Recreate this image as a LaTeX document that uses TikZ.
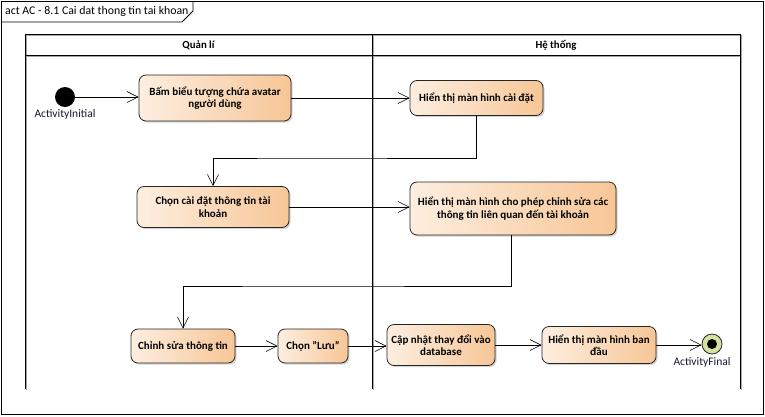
\documentclass[tikz,border=0pt]{standalone}
\usepackage{fontspec}
\setmainfont{Carlito}
\usetikzlibrary{arrows.meta,shadows}

\definecolor{actL}{RGB}{253,238,224}
\definecolor{actR}{RGB}{247,198,150}
\definecolor{finalG}{RGB}{208,228,160}
\definecolor{lblC}{RGB}{22,24,48}

\begin{document}
\begin{tikzpicture}[x=1pt,y=-1pt,
  action/.style={rounded corners=7pt, draw=black!85, line width=0.8pt,
    left color=actL, right color=actR, align=center, text=black,
    font=\fontsize{11}{12.5}\selectfont\bfseries, inner sep=2pt,
    drop shadow={shadow xshift=1.6pt, shadow yshift=-1.6pt, opacity=0.35}},
  flow/.style={draw=black, line width=0.6pt,
    -{Straight Barb[length=11pt,width=11pt,line width=0.6pt]}},
  lane/.style={draw=black, line width=0.9pt},
  laneshade/.style={draw=black!35, line width=0.9pt},
  hdr/.style={font=\fontsize{10.8}{12}\selectfont\bfseries, inner sep=0pt},
  lbl/.style={font=\fontsize{11.5}{13}\selectfont, text=lblC, inner sep=0pt},
  initial/.style={circle, fill=black, minimum size=20pt, inner sep=0pt},
  finalring/.style={circle, draw=black!85, line width=0.8pt, fill=finalG,
    minimum size=20pt, inner sep=0pt},
  finaldot/.style={circle, fill=black, minimum size=10pt, inner sep=0pt}]

\useasboundingbox (0,0) rectangle (765,416);

% diagram frame and name tab
\draw[line width=0.9pt] (1,1) rectangle (763,414);
\draw[line width=0.9pt] (1,22) -- (182,22) -- (193,11) -- (193,1);
\node[anchor=west, font=\fontsize{11.8}{13}\selectfont, inner sep=0pt] (title) at (5,11.5)
  {act AC - 8.1 Cai dat thong tin tai khoan};

% swimlanes
\draw[laneshade] (26,390) -- (26,35) -- (741,35) -- (741,390);
\draw[laneshade] (26,56) -- (741,56);
\draw[laneshade] (373,35) -- (373,390);
\draw[lane] (25,389) -- (25,34) -- (740,34) -- (740,389);
\draw[lane] (25,55) -- (740,55);
\draw[lane] (372,34) -- (372,389);
\node[hdr] (lane1) at (198.5,45) {Quản lí};
\node[hdr] (lane2) at (556,45) {Hệ thống};

% start and end
\node[initial] (start) at (65,97) {};
\node[lbl] (startlbl) at (65,114) {ActivityInitial};
\node[finalring] (fin) at (712,344) {};
\node[finaldot] (findot) at (fin) {};
\node[lbl] (finlbl) at (702,362) {ActivityFinal};

% actions
\node[action, minimum width=152pt, minimum height=46pt] (a1) at (215,98)
  {Bấm biểu tượng chứa avatar\\người dùng};
\node[action, minimum width=133pt, minimum height=35pt] (a2) at (476.5,98)
  {Hiển thị màn hình cài đặt};
\node[action, minimum width=152pt, minimum height=41pt] (a3) at (213,207)
  {Chọn cài đặt thông tin tài\\khoản};
\node[action, minimum width=206pt, minimum height=53pt] (a4) at (513,208.5)
  {Hiển thị màn hình cho phép chỉnh sửa các\\thông tin liên quan đến tài khoản};
\node[action, minimum width=104pt, minimum height=34pt] (a5) at (183,346)
  {Chỉnh sửa thông tin};
\node[action, minimum width=70pt, minimum height=34pt] (a6) at (313,346)
  {Chọn "Lưu"};
\node[action, minimum width=108pt, minimum height=41pt] (a7) at (441,345)
  {Cập nhật thay đổi vào\\database};
\node[action, minimum width=114pt, minimum height=37pt] (a8) at (599,345)
  {Hiển thị màn hình ban\\đầu};

% bend points
\coordinate (j1) at (300,158);
\coordinate (j2) at (300,286);

% control flows
\draw[flow] (start.east) -- (start.east -| a1.west);
\draw[flow] (a1.east) -- (a1.east -| a2.west);
\draw[flow] (a2.south) |- (j1) -| (a3.north);
\draw[flow] (a3.east) -- (a3.east -| a4.west);
\draw[flow] ([xshift=-2pt]a4.south) |- (j2) -| (a5.north);
\draw[flow] (a5.east) -- (a5.east -| a6.west);
\draw[flow] (a6.east) -- (a6.east -| a7.west);
\draw[flow] (a7.east) -- (a7.east -| a8.west);
\draw[flow] (a8.east) -- (a8.east -| fin.west);
\end{tikzpicture}
\end{document}
